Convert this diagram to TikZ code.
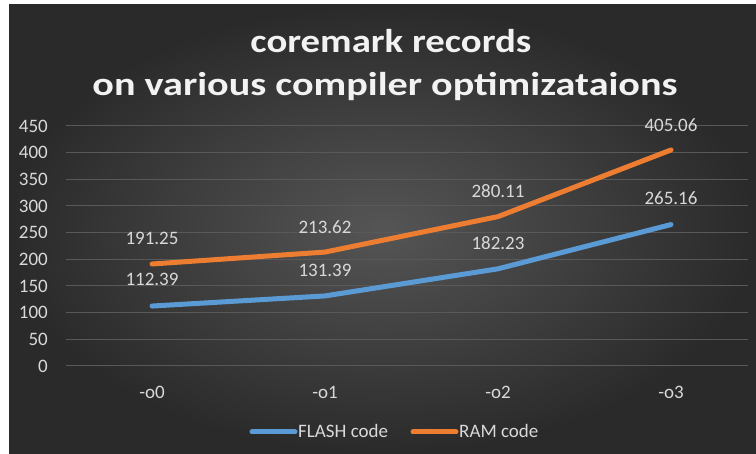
\documentclass[tikz,border=0pt]{standalone}
\usepackage{fontspec}
\setmainfont{Carlito}
\definecolor{bgdark}{HTML}{2A2A2A}
\definecolor{bgmid}{HTML}{555555}
\definecolor{labgray}{HTML}{D9D9D9}
\definecolor{gridc}{HTML}{595959}
\definecolor{flashc}{HTML}{5B9BD5}
\definecolor{ramc}{HTML}{ED7D31}
\begin{document}
\begin{tikzpicture}[x=1pt,y=-1pt,
  ylab/.style={text=labgray, anchor=east, inner sep=0pt, font=\fontsize{19}{21}\selectfont},
  xlab/.style={text=labgray, inner sep=0pt, font=\fontsize{19}{21}\selectfont},
  dlab/.style={text=labgray, inner sep=0pt, font=\fontsize{19}{21}\selectfont},
  gridline/.style={draw=gridc, line width=1pt},
  series/.style={line width=5pt, line join=round, line cap=round},
  legtext/.style={text=labgray, anchor=base west, inner sep=0pt, font=\fontsize{19}{21}\selectfont},
  titletext/.style={text=white!95!black, anchor=base, inner sep=0pt, font=\fontsize{33}{38}\selectfont\bfseries}]
\useasboundingbox (0,0) rectangle (756,454);
\fill[white] (0,0) rectangle (756,454);
\shade[inner color=bgmid, outer color=bgdark] (9,5) rectangle (756,454);
% title
\node[titletext] (title1) at (391,53) {\resizebox{281pt}{\height}{coremark records}};
\node[titletext] (title2) at (385,96) {\resizebox{585pt}{\height}{on various compiler optimizataions}};
% grid and y labels
\foreach \v in {0,50,...,450} {
  \draw[gridline] (66,{366-\v*0.533333}) -- (748,{366-\v*0.533333});
  \node[ylab] (y\v) at (48,{366-\v*0.533333}) {\v};
}
% category labels
\node[xlab] (c0) at (152,392) {-o0};
\node[xlab] (c1) at (325,392) {-o1};
\node[xlab] (c2) at (498,392) {-o2};
\node[xlab] (c3) at (671,392) {-o3};
% data points
\coordinate (f0) at (152,306.06);
\coordinate (f1) at (325,295.93);
\coordinate (f2) at (498,268.81);
\coordinate (f3) at (671,224.58);
\coordinate (r0) at (152,264.00);
\coordinate (r1) at (325,252.07);
\coordinate (r2) at (498,216.61);
\coordinate (r3) at (671,149.97);
\draw[series, draw=flashc] (f0) -- (f1) -- (f2) -- (f3);
\draw[series, draw=ramc] (r0) -- (r1) -- (r2) -- (r3);
% data labels
\node[dlab] (lf0) at ([yshift=27pt]f0) {112.39};
\node[dlab] (lf1) at ([yshift=26pt]f1) {131.39};
\node[dlab] (lf2) at ([yshift=26pt]f2) {182.23};
\node[dlab] (lf3) at ([yshift=26pt]f3) {265.16};
\node[dlab] (lr0) at ([yshift=26pt]r0) {191.25};
\node[dlab] (lr1) at ([yshift=25pt]r1) {213.62};
\node[dlab] (lr2) at ([yshift=26pt]r2) {280.11};
\node[dlab] (lr3) at ([yshift=25pt]r3) {405.06};
% legend
\coordinate (lb1) at (252,432);
\coordinate (lb2) at (295,432);
\coordinate (lo1) at (413,432);
\coordinate (lo2) at (456,432);
\draw[series, draw=flashc] (lb1) -- (lb2);
\draw[series, draw=ramc] (lo1) -- (lo2);
\node[legtext] (lt1) at (298,438) {FLASH code};
\node[legtext] (lt2) at (459,438) {RAM code};
\end{tikzpicture}
\end{document}
